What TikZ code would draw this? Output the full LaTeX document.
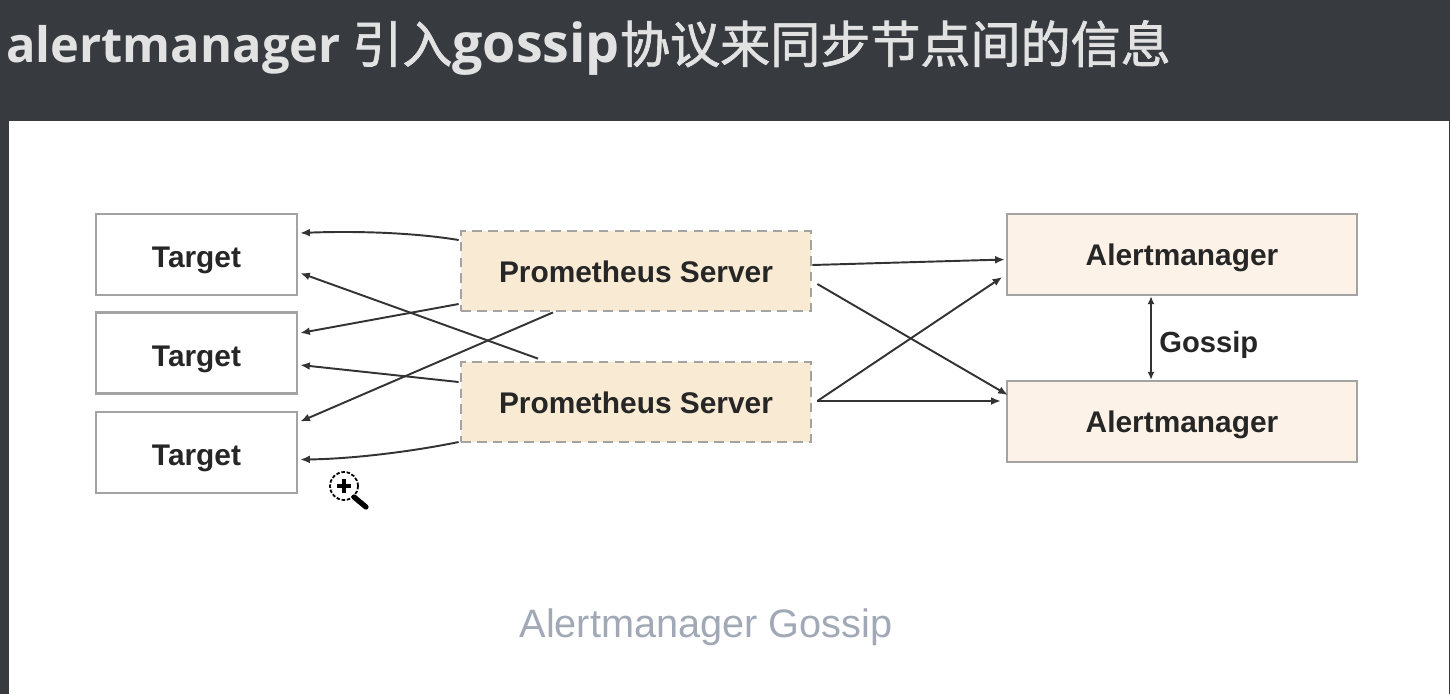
\documentclass[tikz,border=0pt]{standalone}
\usepackage{fontspec}
\setmainfont{Liberation Sans}
\newfontfamily\cjk[FakeBold=1.4]{Noto Sans CJK SC}
\newfontfamily\latinhead{Open Sans}
\usetikzlibrary{arrows.meta,calc}
\definecolor{headbg}{HTML}{373B40}
\definecolor{headtxt}{HTML}{E2E2E2}
\definecolor{boxline}{HTML}{A3A3A3}
\definecolor{promfill}{HTML}{F9EBD3}
\definecolor{alertfill}{HTML}{FDF2E7}
\definecolor{capgray}{HTML}{A2A9B6}
\definecolor{wire}{HTML}{333333}
\tikzset{
  boxtext/.style={font=\bfseries\fontsize{17}{19}\selectfont,text=black!85,text height=13pt,text depth=0pt},
  targetbox/.style={boxtext,text height=15pt,draw=boxline,line width=1.4pt,fill=white,minimum width=4.02cm,minimum height=1.62cm},
  prombox/.style={boxtext,draw=boxline,line width=1.6pt,dash pattern=on 5.5pt off 3.5pt,fill=promfill,minimum width=7cm,minimum height=1.6cm},
  alertbox/.style={boxtext,draw=boxline,line width=1.4pt,fill=alertfill,minimum width=7cm,minimum height=1.62cm},
  wirearrow/.style={draw=wire,line width=1.1pt,-{Latex[length=5.5pt,width=4.5pt]}},
}
\begin{document}
\begin{tikzpicture}[x=0.02cm,y=-0.02cm]
  \useasboundingbox (0,0) rectangle (1450,694);
  \fill[headbg] (0,0) rectangle (1450,694);
  \fill[white] (9,121) rectangle (1449,694);
  \node[anchor=west,inner sep=0pt,text=headtxt] (heading) at (6,48)
    {{\fontsize{27.8}{30}\selectfont\latinhead\bfseries alertmanager\hspace{6.6pt}}{\fontsize{28.5}{30}\selectfont\cjk 引入}{\fontsize{30.6}{30}\selectfont\latinhead\bfseries gossip}{\fontsize{28.5}{30}\selectfont\cjk 协议来同步节点间的信息}};
  % targets
  \node[targetbox] (target1) at (196.5,254.5) {Target};
  \node[targetbox] (target2) at (196.5,353) {Target};
  \node[targetbox] (target3) at (196.5,452.5) {Target};
  % servers
  \node[prombox] (prom1) at (636,271) {Prometheus Server};
  \node[prombox] (prom2) at (636,402) {Prometheus Server};
  % alertmanagers
  \node[alertbox] (alert1) at (1182,254.5) {Alertmanager};
  \node[alertbox] (alert2) at (1182,421.5) {Alertmanager};
  \node[anchor=west,inner sep=0pt,font=\bfseries\fontsize{16.6}{18}\selectfont,text=black!85,text height=13pt,text depth=0pt] (gossip) at (1159,341) {Gossip};
  \node[text=capgray,font=\fontsize{22.6}{26}\selectfont] (caption) at (706,627) {Alertmanager Gossip};
  % prometheus to targets
  \draw[wirearrow] ($(prom1.west)+(-1,-31)$) .. controls (410,232) and (350,231) .. ($(target1.east)+(2,-21.5)$);
  \draw[wirearrow] ($(prom2.north)+(-98,-2)$) -- ($(target1.east)+(2,18.5)$);
  \draw[wirearrow] ($(prom1.west)+(-1,33)$) -- ($(target2.east)+(2,-20)$);
  \draw[wirearrow] ($(prom2.west)+(-1,-20)$) -- ($(target2.east)+(2,12)$);
  \draw[wirearrow] ($(prom1.south)+(-83,0)$) -- ($(target3.east)+(2,-31)$);
  \draw[wirearrow] ($(prom2.west)+(-1,40)$) .. controls (410,452) and (350,459) .. ($(target3.east)+(2,7)$);
  % prometheus to alertmanagers
  \draw[wirearrow] ($(prom1.east)+(0,-6)$) -- ($(alert1.west)+(-1,5)$);
  \draw[wirearrow] ($(prom1.east)+(5,13)$) -- ($(alert2.west)+(2,-26.5)$);
  \draw[wirearrow] ($(prom2.east)+(5,-1)$) -- ($(alert1.west)+(-3.5,22.5)$);
  \draw[wirearrow] ($(prom2.east)+(5,-1)$) -- ($(alert2.west)+(-5,-20.5)$);
  \draw[draw=wire,line width=1.1pt,{Latex[length=4.5pt,width=4pt]}-{Latex[length=4.5pt,width=4pt]}] ($(alert1.south)+(-31,0)$) -- ($(alert2.north)+(-31,0)$);
  % zoom cursor
  \node[draw=black,dash pattern=on 2pt off 1pt,line width=1pt,fill=white,circle,minimum size=0.56cm,inner sep=0pt] (lens) at (344,486) {};
  \draw[black,line width=2.8pt] (337,486) -- (351,486) (344,479) -- (344,493);
  \coordinate (lensend) at (366,507);
  \draw[black,line width=3pt,line cap=round] (lens) ++(10,11) -- (lensend);
\end{tikzpicture}
\end{document}
